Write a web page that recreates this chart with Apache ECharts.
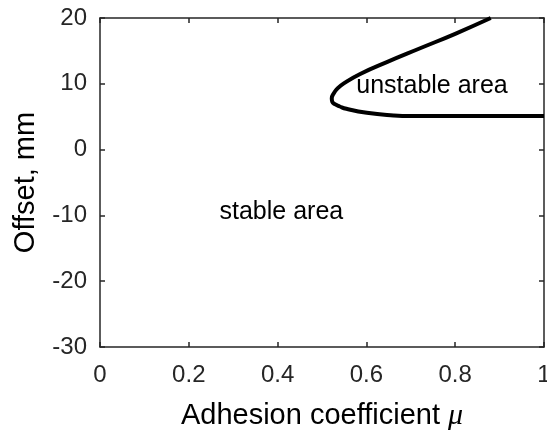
<!DOCTYPE html>
<html>
<head>
<meta charset="utf-8">
<script src="https://cdn.jsdelivr.net/npm/echarts@6/dist/echarts.min.js"></script>
<style>html,body{margin:0;padding:0;background:#fff}#c{width:547px;height:435px}</style>
</head>
<body>
<div id="c"></div>
<script>
// Boundary curve: adhesion coefficient (mu) and offset (mm)
var curveMu     = [0.880, 0.800, 0.721, 0.646, 0.586, 0.550, 0.535, 0.526, 0.522, 0.523, 0.529, 0.540, 0.555, 0.601, 0.661, 0.70, 1.0];
var curveOffset = [20.0, 17.6, 15.4, 13.3, 11.5, 10.1, 9.3, 8.5, 7.8, 7.3, 6.9, 6.55, 6.2, 5.6, 5.2, 5.1, 5.1];
// Region annotations
var areaNames  = ['unstable area', 'stable area'];
var areaMu     = [0.576, 0.268];
var areaOffset = [9.7, -9.5];
// Ticks
var xTicks = [0, 0.2, 0.4, 0.6, 0.8, 1];
var xTickLabels = ['0', '0.2', '0.4', '0.6', '0.8', '1'];
var yTicks = [-30, -20, -10, 0, 10, 20];
var yTickLabels = ['-30', '-20', '-10', '0', '10', '20'];

var FONT = "'Liberation Sans', Arial, Helvetica, sans-serif";
var AX = '#262626';

var curveData = curveMu.map(function (m, i) { return [m, curveOffset[i]]; });
var areaData = areaNames.map(function (n, i) { return { value: [areaMu[i], areaOffset[i]], name: n }; });

function fmt(ticks, labels) {
  return function (v) {
    for (var i = 0; i < ticks.length; i++) if (Math.abs(ticks[i] - v) < 1e-9) return labels[i];
    return '';
  };
}

var chart = echarts.init(document.getElementById('c'), null, { renderer: 'canvas' });
function axisCommon() {
  return {
    axisLine: { show: true, onZero: false, lineStyle: { color: AX, width: 1.5 } },
    axisTick: { show: true, inside: true, length: 5, lineStyle: { color: AX, width: 1.5 } },
    splitLine: { show: false }
  };
}
chart.setOption({
  animation: false,
  backgroundColor: '#fff',
  grid: { left: 100, right: 3, top: 18, bottom: 88, containLabel: false, outerBoundsMode: 'none' },
  xAxis: [
    Object.assign({
      type: 'value', min: 0, max: 1, interval: 0.2, position: 'bottom',
      axisLabel: { formatter: fmt(xTicks, xTickLabels), fontFamily: FONT, fontSize: 24, color: AX, margin: 16 },
      name: 'Adhesion coefficient {mu|μ}', nameLocation: 'middle', nameGap: 54,
      nameTextStyle: {
        fontFamily: FONT, fontSize: 29, color: '#000',
        rich: { mu: { fontFamily: "'Liberation Serif', 'Times New Roman', serif", fontStyle: 'italic', fontSize: 30, color: '#000' } }
      }
    }, axisCommon()),
    Object.assign({
      type: 'value', min: 0, max: 1, interval: 0.2, position: 'top',
      axisLabel: { show: false }
    }, axisCommon())
  ],
  yAxis: [
    Object.assign({
      type: 'value', min: -30, max: 20, interval: 10, position: 'left',
      axisLabel: { formatter: fmt(yTicks, yTickLabels), fontFamily: FONT, fontSize: 24, color: AX, margin: 13 },
      name: 'Offset, mm', nameLocation: 'middle', nameGap: 60, nameRotate: 90,
      nameTextStyle: { fontFamily: FONT, fontSize: 29, color: '#000' }
    }, axisCommon()),
    Object.assign({
      type: 'value', min: -30, max: 20, interval: 10, position: 'right',
      axisLabel: { show: false }
    }, axisCommon())
  ],
  series: [
    {
      type: 'line', data: curveData, xAxisIndex: 0, yAxisIndex: 0,
      smooth: 0.5, showSymbol: false, symbol: 'none',
      lineStyle: { color: '#000', width: 4 }, clip: true
    },
    {
      type: 'scatter', data: areaData, xAxisIndex: 0, yAxisIndex: 0,
      symbolSize: 1, itemStyle: { color: '#ffffff', opacity: 1 },
      emphasis: { disabled: true },
      label: {
        show: true, position: 'right', distance: 0, opacity: 1,
        formatter: function (p) { return p.name; },
        fontFamily: FONT, fontSize: 25, color: '#000', textBorderWidth: 0
      },
      labelLayout: { hideOverlap: false }
    }
  ]
});
</script>
</body>
</html>
